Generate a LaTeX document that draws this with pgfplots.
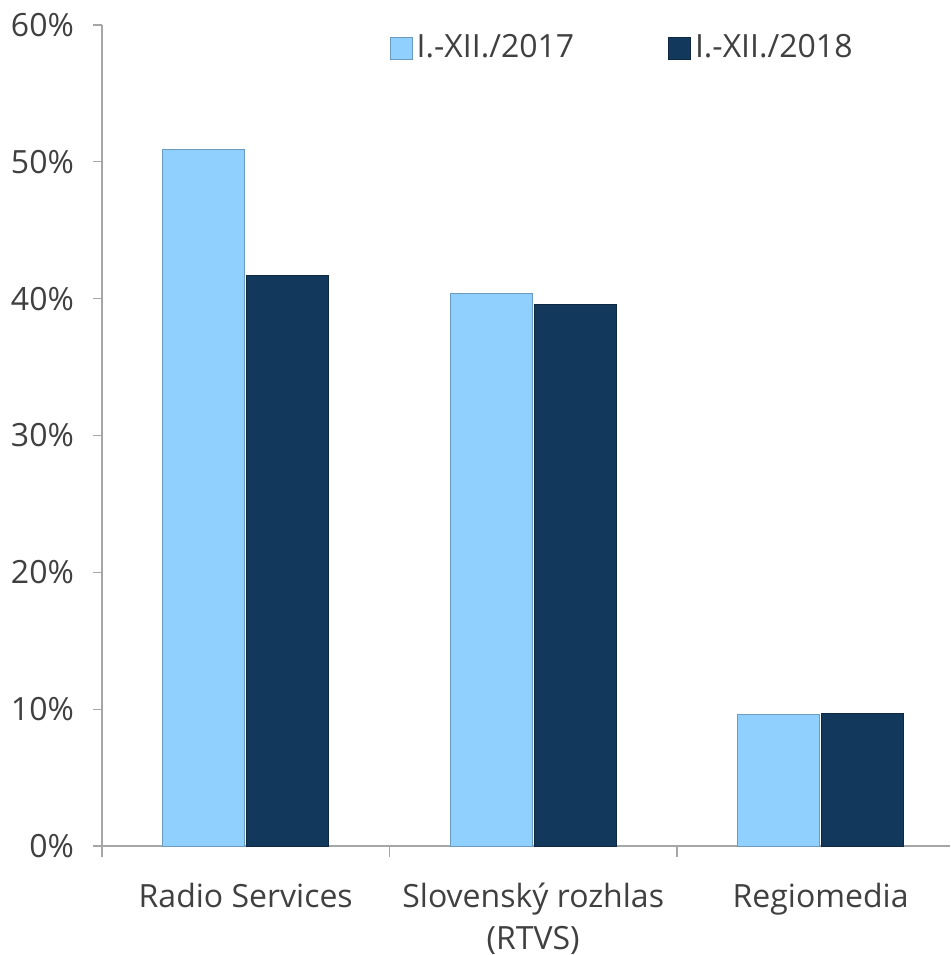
\documentclass[border=0pt]{standalone}
\usepackage{fontspec}
\setmainfont{Open Sans}
\usepackage{pgfplots}
\pgfplotsset{compat=1.18}
\definecolor{light}{HTML}{8FD0FF}
\definecolor{dark}{HTML}{12395B}
\definecolor{txt}{HTML}{404040}
\definecolor{axisgray}{HTML}{A6A6A6}
\begin{document}
\fontsize{16}{22}\selectfont
\begin{tikzpicture}
\useasboundingbox (-51pt,-54.5pt) rectangle (424pt,423pt);
\begin{axis}[
  at={(0,0)}, anchor=south west,
  scale only axis, width=424pt, height=410.5pt,
  xmin=-0.5, xmax=2.45, ymin=0, ymax=60,
  axis x line*=bottom, axis y line*=left,
  axis line style={axisgray, line width=0.6pt},
  ybar=1pt, bar width=41pt,
  xtick={0,1,2},
  xticklabels={Radio Services,{Slovenský rozhlas\\[1pt](RTVS)},Regiomedia},
  minor xtick={-0.5,0.5,1.5},
  major x tick style={draw=none},
  minor x tick style={axisgray, line width=0.6pt},
  y tick style={axisgray, line width=0.6pt},
  tick align=outside, major tick length=4.5pt, minor tick length=5.5pt,
  ytick={0,10,20,30,40,50,60},
  yticklabels={0\%,10\%,20\%,30\%,40\%,50\%,60\%},
  tick label style={font=\fontsize{16}{20}\selectfont, text=txt},
  xticklabel style={align=center, yshift=-8.5pt},
  yticklabel style={xshift=-4pt},
  legend style={at={(0.332,0.972)}, anchor=west, draw=none, fill=none,
    font=\fontsize{16}{20}\selectfont, text=txt,
    /tikz/every even column/.append style={column sep=45pt}},
  legend columns=2,
  legend image code/.code={\filldraw[#1] (0pt,-5.5pt) rectangle (11pt,5.5pt);},
]
\addplot[fill=light, draw=light!75!black] coordinates {(0,50.9) (1,40.4) (2,9.63)};
\addlegendentry{I.-XII./2017}
\addplot[fill=dark, draw=dark!70!black] coordinates {(0,41.7) (1,39.6) (2,9.72)};
\addlegendentry{I.-XII./2018}
\end{axis}
\end{tikzpicture}
\end{document}
